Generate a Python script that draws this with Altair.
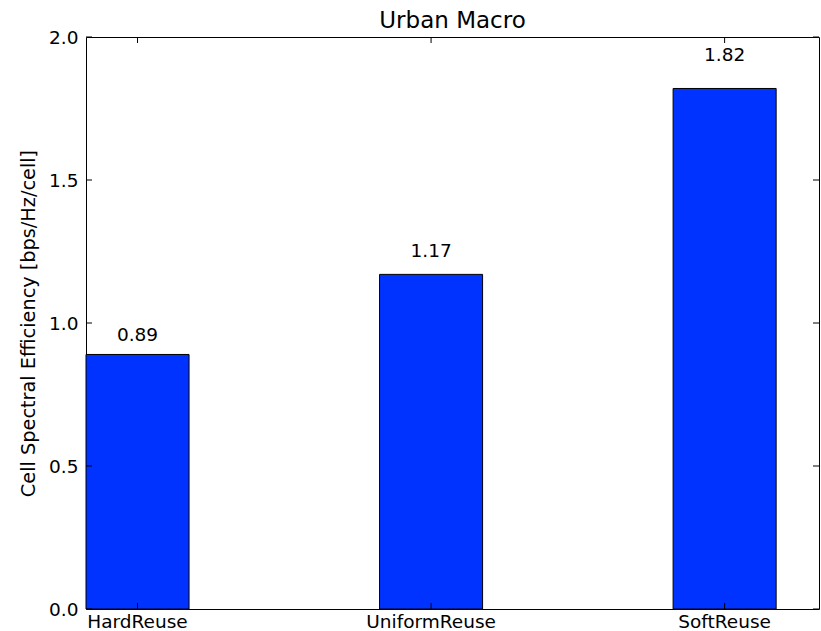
import altair as alt
import pandas as pd

# Cell spectral efficiency per frequency-reuse scheme (bps/Hz/cell)
schemes = ["HardReuse", "UniformReuse", "SoftReuse"]
efficiency = [0.89, 1.17, 1.82]
y_tick_values = [0.0, 0.5, 1.0, 1.5, 2.0]
chart_title = "Urban Macro"

W, H = 733, 572
FONT = "DejaVu Sans"
BLUE = "#0033ff"
TICK = 6
LABEL_SIZE = 18.5

bars_df = pd.DataFrame({"scheme": schemes, "eff": efficiency})
yt_df = pd.DataFrame({"v": y_tick_values})
title_df = pd.DataFrame({"title": [chart_title]})

x_scale = alt.Scale(type="band", paddingInner=0.649, paddingOuter=0.073, align=0)
x_axis = alt.Axis(
    title=None, labelAngle=0, labelFont=FONT, labelFontSize=LABEL_SIZE,
    labelColor="black", labelPadding=3, ticks=False, domain=False, grid=False,
)
y_scale = alt.Scale(domain=[0, 2], nice=False, zero=True)
y_axis = alt.Axis(
    title="Cell Spectral Efficiency [bps/Hz/cell]", values=y_tick_values,
    format=".1f", labelFont=FONT, labelFontSize=LABEL_SIZE, labelColor="black",
    labelPadding=8, ticks=False, domain=False, grid=False,
    titleFont=FONT, titleFontSize=19.3, titleFontWeight="normal",
    titleColor="black", titlePadding=10,
)

x_enc = alt.X("scheme:N", sort=schemes, scale=x_scale, axis=x_axis)

base = alt.Chart(bars_df)

bars = base.mark_bar(color=BLUE, stroke="black", strokeWidth=1).encode(
    x=x_enc,
    y=alt.Y("eff:Q", scale=y_scale, axis=y_axis),
)

# value labels sit just above each bar (5% above its height)
labels = base.transform_calculate(label_y="datum.eff * 1.05").mark_text(
    baseline="bottom", align="center", font=FONT, fontSize=LABEL_SIZE,
    color="black", dy=3
).encode(
    x=x_enc,
    y=alt.Y("label_y:Q", scale=y_scale, axis=y_axis),
    text=alt.Text("eff:Q", format=".2f"),
)

# inward-pointing ticks on all four sides of the frame
x_ticks_bottom = base.mark_rule(color="black", strokeWidth=1).encode(
    x=x_enc, y=alt.value(H), y2=alt.value(H - TICK)
)
x_ticks_top = base.mark_rule(color="black", strokeWidth=1).encode(
    x=x_enc, y=alt.value(0), y2=alt.value(TICK)
)
yt = alt.Chart(yt_df)
y_ticks_left = yt.mark_rule(color="black", strokeWidth=1).encode(
    y=alt.Y("v:Q", scale=y_scale, axis=y_axis), x=alt.value(0), x2=alt.value(TICK)
)
y_ticks_right = yt.mark_rule(color="black", strokeWidth=1).encode(
    y=alt.Y("v:Q", scale=y_scale, axis=y_axis), x=alt.value(W - TICK), x2=alt.value(W)
)

# centred title just above the frame
title_mark = alt.Chart(title_df).mark_text(
    align="center", baseline="alphabetic", font=FONT, fontSize=23, color="black"
).encode(
    x=alt.value(W / 2), y=alt.value(-9.5), text="title:N"
)

chart = alt.layer(
    bars, labels, x_ticks_bottom, x_ticks_top, y_ticks_left, y_ticks_right, title_mark
).properties(
    width=W,
    height=H,
    padding={"left": 86, "top": 37, "right": 2, "bottom": 22},
    autosize=alt.AutoSizeParams(type="none"),
).configure(
    background="white",
    view=alt.ViewConfig(stroke="black", strokeWidth=1),
)

chart.save("out.html", embed_options={"renderer": "svg", "actions": False})
